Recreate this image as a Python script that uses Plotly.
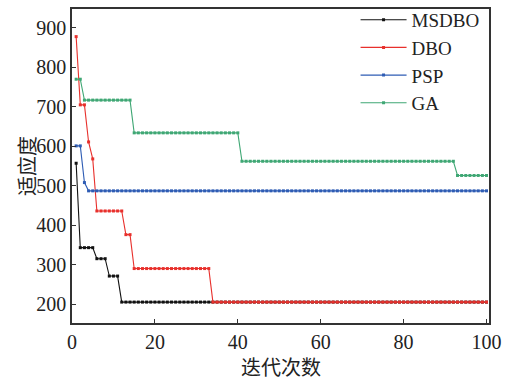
import plotly.graph_objects as go

# Step data: (first iteration of step, fitness value)
iterations = list(range(1, 101))
msdbo_steps = [(1, 557), (2, 343), (6, 315), (9, 271), (12, 205)]
dbo_steps = [(1, 878), (2, 705), (4, 611), (5, 568), (6, 436), (13, 376), (15, 290), (34, 205)]
psp_steps = [(1, 601), (3, 508), (4, 487)]
ga_steps = [(1, 770), (3, 717), (15, 634), (41, 562), (93, 526)]

series_names = ["MSDBO", "DBO", "PSP", "GA"]
series_steps = [msdbo_steps, dbo_steps, psp_steps, ga_steps]
series_colors = ["#111111", "#e8302c", "#2e5cb4", "#3fa774"]

x_ticks = [0, 20, 40, 60, 80, 100]
y_ticks = [200, 300, 400, 500, 600, 700, 800, 900]
x_title = "迭代次数"
y_title = "适应度"


def expand(steps, xs):
    out = []
    for it in xs:
        val = None
        for start, v in steps:
            if it >= start:
                val = v
        out.append(val)
    return out


fig = go.Figure()
for name, steps, color in zip(series_names, series_steps, series_colors):
    fig.add_trace(go.Scatter(
        x=iterations, y=expand(steps, iterations), name=name,
        mode="lines+markers",
        line=dict(color=color, width=1.1),
        marker=dict(color=color, size=3, symbol="square"),
    ))

serif = "Liberation Serif, Noto Sans CJK SC"
axis_common = dict(ticks="inside", ticklen=4, tickwidth=1, tickcolor="#333",
                   showline=True, linecolor="#333", linewidth=1.5, mirror=True,
                   showgrid=False, zeroline=False, automargin=False)
fig.update_layout(
    width=512, height=380,
    margin=dict(l=72, r=23, t=9, b=57, autoexpand=False),
    paper_bgcolor="white", plot_bgcolor="white",
    font=dict(family=serif, size=20, color="#222"),
    showlegend=True,
    legend=dict(x=0.68, y=1.026, xref="paper", yref="paper",
                xanchor="left", yanchor="top",
                bgcolor="rgba(0,0,0,0)", borderwidth=0,
                font=dict(family=serif, size=19, color="#222"),
                tracegroupgap=0, itemwidth=46),
    xaxis=dict(range=[0, 100.6], tickvals=x_ticks, **axis_common),
    yaxis=dict(range=[152, 948], tickvals=y_ticks, **axis_common),
    annotations=[
        dict(text=x_title, xref="paper", yref="paper", x=0.501, y=-0.143,
             xanchor="center", yanchor="middle", showarrow=False,
             font=dict(family=serif, size=20, color="#222")),
        dict(text=y_title, xref="paper", yref="paper", x=-0.1055, y=0.5,
             xanchor="center", yanchor="middle", showarrow=False, textangle=-90,
             font=dict(family=serif, size=20, color="#222")),
    ],
)
fig.write_html("out.html", config={"displayModeBar": False},
               post_script="document.body.style.margin='0';")
